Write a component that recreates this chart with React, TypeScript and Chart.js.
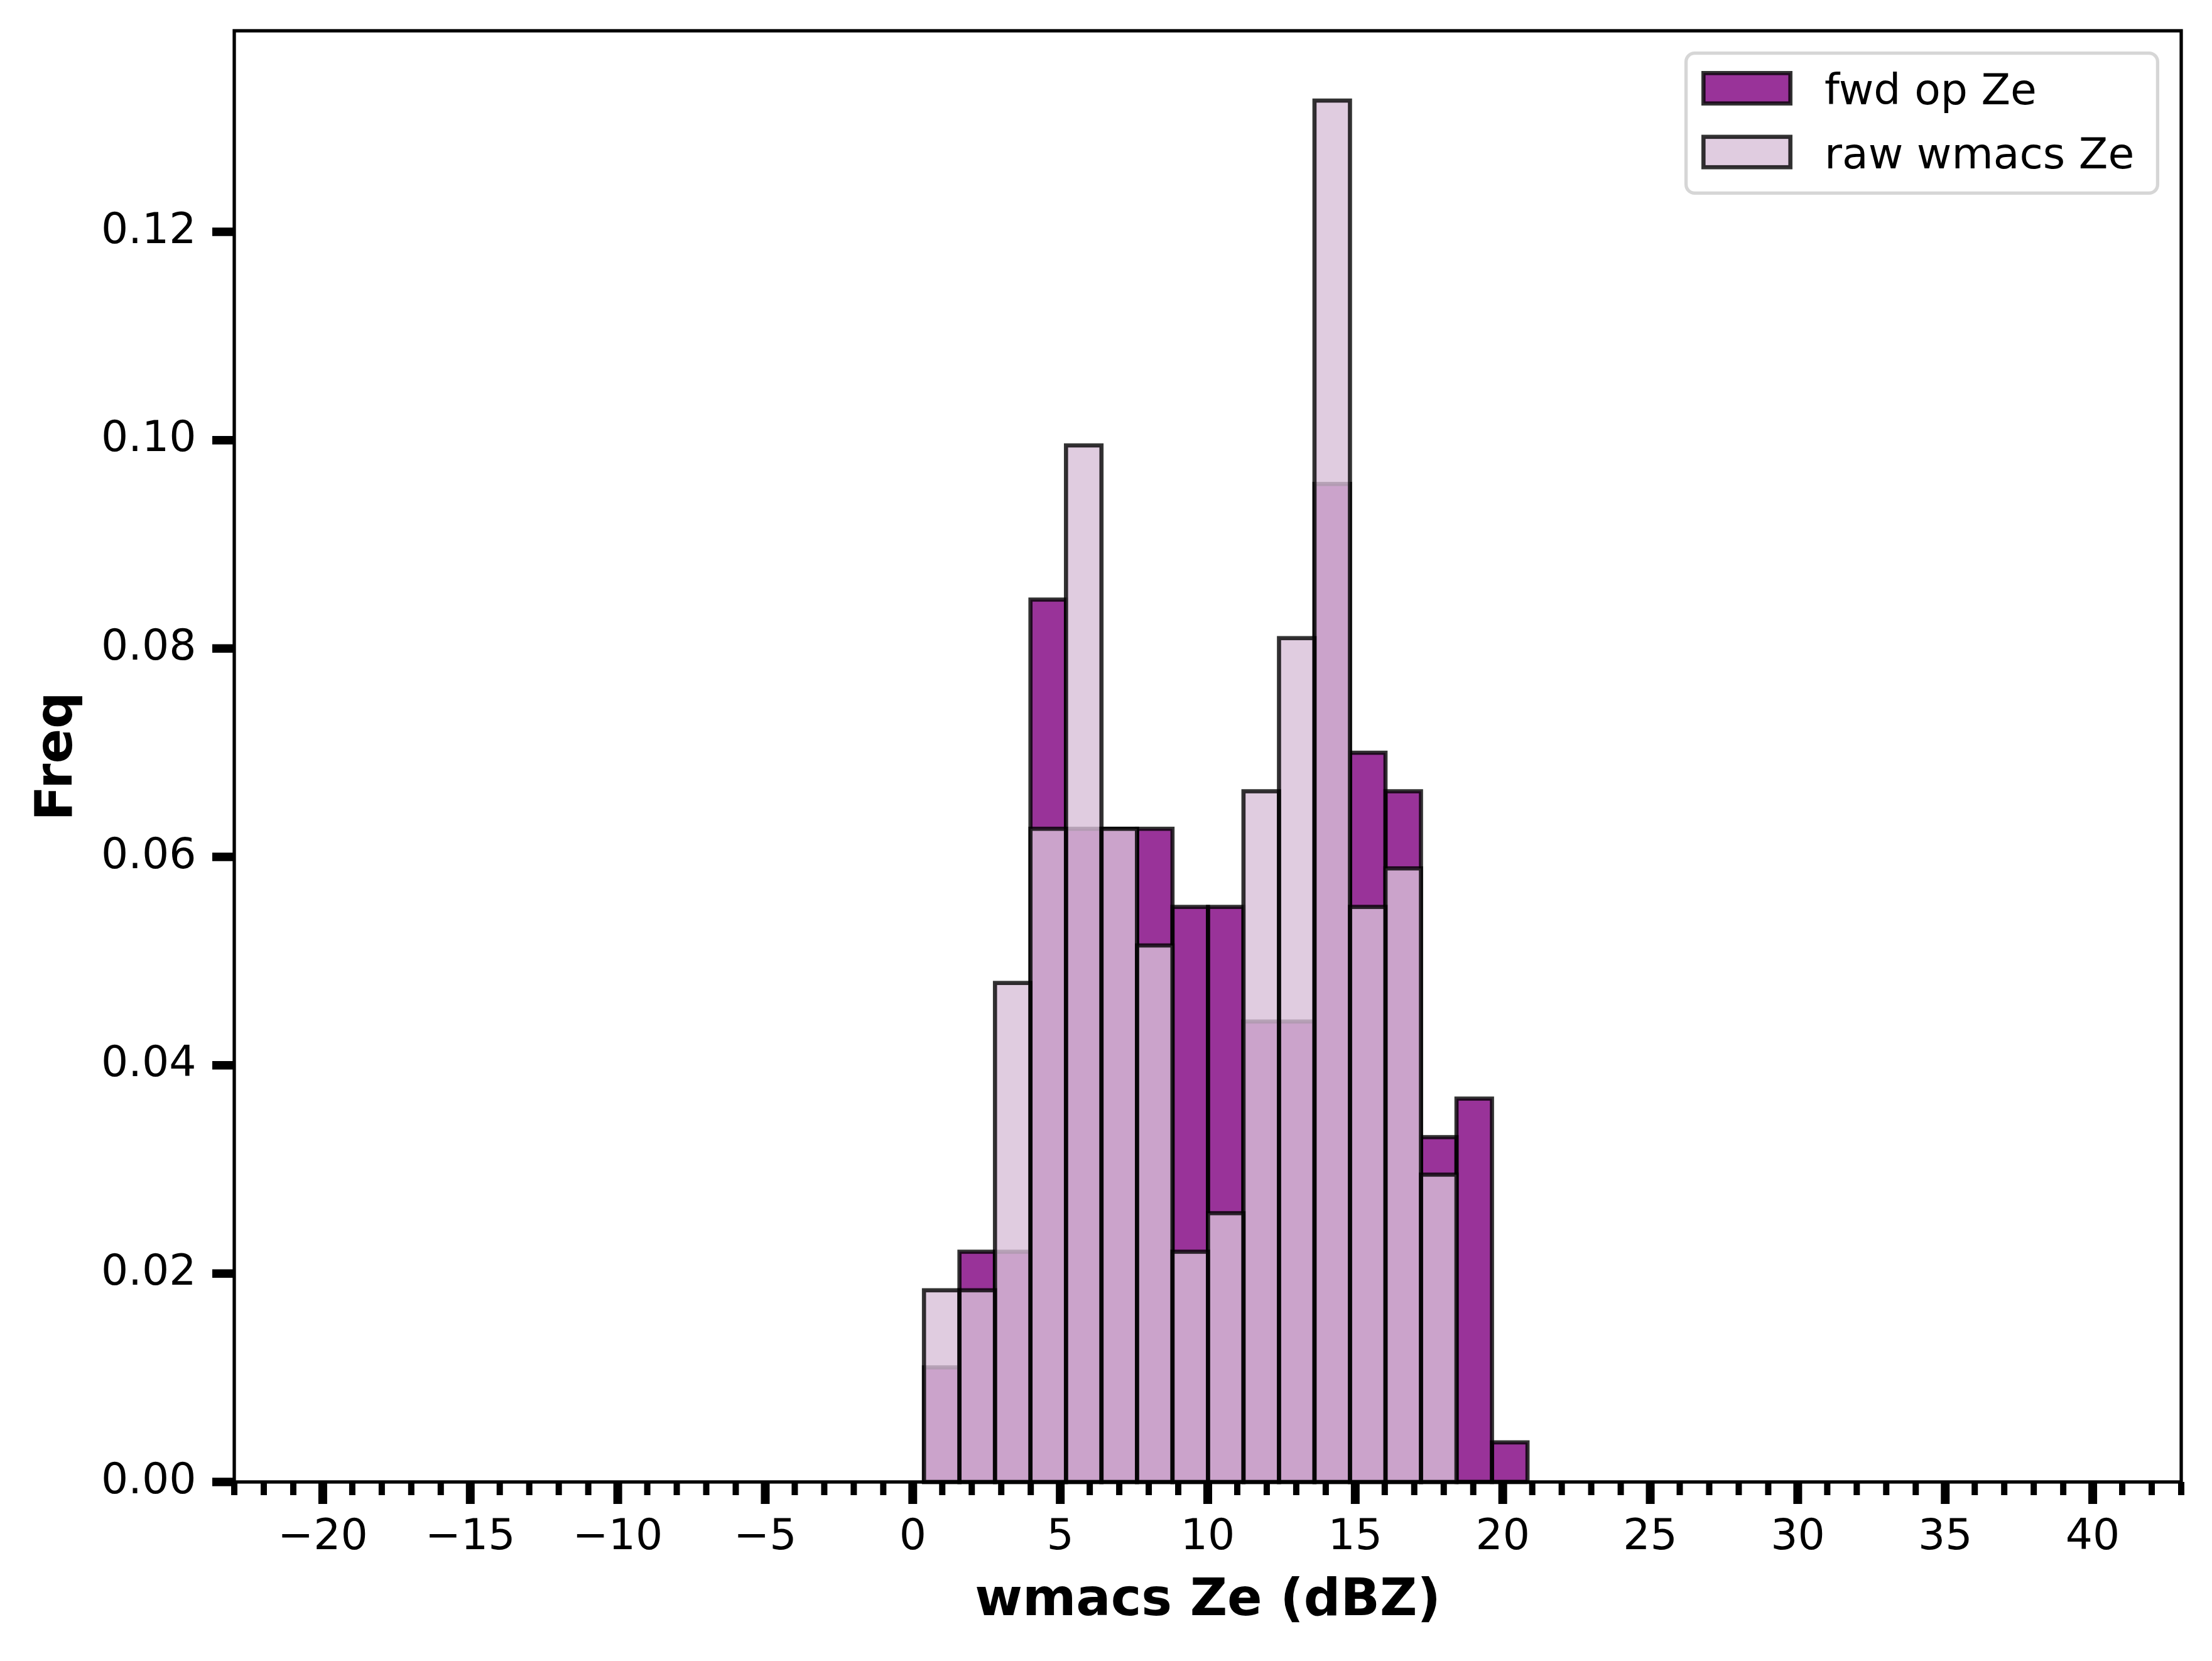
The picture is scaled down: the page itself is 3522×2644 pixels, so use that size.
import React, { useEffect, useRef } from 'react';
import { Chart, registerables } from 'chart.js';

Chart.register(...registerables);

// ---- data ----
const binCenters = [0.982, 2.185, 3.389, 4.592, 5.796, 6.999, 8.203, 9.406, 10.61, 11.813, 13.017, 14.22, 15.424, 16.627, 17.831, 19.034, 20.238];
const fwdOpZe = [0.011, 0.0221, 0.0221, 0.0847, 0.0627, 0.0627, 0.0627, 0.0552, 0.0552, 0.0442, 0.0442, 0.0958, 0.07, 0.0663, 0.0331, 0.0368, 0.0038];
const rawWmacsZe = [0.0184, 0.0184, 0.0479, 0.0627, 0.0995, 0.0627, 0.0515, 0.0221, 0.0258, 0.0663, 0.081, 0.1326, 0.0552, 0.0589, 0.0295, 0, 0];
const seriesLabels = ['fwd op Ze', 'raw wmacs Ze'];
const xAxisTitle = 'wmacs Ze (dBZ)';
const yAxisTitle = 'Freq';
const xLimits = [-23, 43];
const yLimits = [0, 0.1393];
const xMajorStep = 5;
const xMinorStep = 1;
const yStep = 0.02;

// ---- styles ----
const W = 3522;
const H = 2644;
const FONT = "'DejaVu Sans', 'Liberation Sans', sans-serif";
const FWD_FILL = 'rgba(128,0,128,0.8)';
const RAW_FILL = 'rgba(216,191,216,0.8)';
const EDGE = 'rgba(0,0,0,0.8)';
const EDGE_W = 6.6;
const SPINE_W = 5.3;

const mplPlugin = {
  id: 'mplLook',
  afterDatasetDraw(chart: any, args: any) {
    const { ctx } = chart;
    const meta = args.meta;
    ctx.save();
    ctx.strokeStyle = EDGE;
    ctx.lineWidth = EDGE_W;
    ctx.lineJoin = 'miter';
    meta.data.forEach((el: any) => {
      const p = el.getProps(['x', 'y', 'base', 'width'], true);
      const l = p.x - p.width / 2;
      const r = p.x + p.width / 2;
      const t = Math.min(p.y, p.base);
      const b = Math.max(p.y, p.base);
      ctx.strokeRect(l, t, r - l, b - t);
    });
    ctx.restore();
  },
  afterDraw(chart: any) {
    const { ctx, chartArea: ca, scales } = chart;
    const xs = scales.x;
    const ys = scales.y;
    ctx.save();
    // spines
    ctx.strokeStyle = '#000';
    ctx.lineWidth = SPINE_W;
    ctx.lineJoin = 'miter';
    ctx.strokeRect(ca.left, ca.top, ca.right - ca.left, ca.bottom - ca.top);
    // x ticks (major + minor)
    ctx.lineCap = 'butt';
    for (let v = Math.ceil(xs.min); v <= xs.max + 1e-9; v += xMinorStep) {
      const px = xs.getPixelForValue(v);
      const major = Math.abs(v % xMajorStep) < 1e-9;
      ctx.lineWidth = major ? 14 : 10;
      ctx.beginPath();
      ctx.moveTo(px, ca.bottom);
      ctx.lineTo(px, ca.bottom + (major ? 35 : 21));
      ctx.stroke();
    }
    // y ticks
    ys.ticks.forEach((t: any) => {
      const py = ys.getPixelForValue(t.value);
      ctx.lineWidth = 13.5;
      ctx.beginPath();
      ctx.moveTo(ca.left - 35, py);
      ctx.lineTo(ca.left, py);
      ctx.stroke();
    });

    // legend (upper right, inside axes)
    const fLeft = ca.right - 788.4;
    const fTop = ca.top + 35.6;
    const fW = 750.8;
    const fH = 222.8;
    const rad = 13.6;
    ctx.beginPath();
    ctx.moveTo(fLeft + rad, fTop);
    ctx.lineTo(fLeft + fW - rad, fTop);
    ctx.arcTo(fLeft + fW, fTop, fLeft + fW, fTop + rad, rad);
    ctx.lineTo(fLeft + fW, fTop + fH - rad);
    ctx.arcTo(fLeft + fW, fTop + fH, fLeft + fW - rad, fTop + fH, rad);
    ctx.lineTo(fLeft + rad, fTop + fH);
    ctx.arcTo(fLeft, fTop + fH, fLeft, fTop + fH - rad, rad);
    ctx.lineTo(fLeft, fTop + rad);
    ctx.arcTo(fLeft, fTop, fLeft + rad, fTop, rad);
    ctx.closePath();
    ctx.fillStyle = 'rgba(255,255,255,0.8)';
    ctx.fill();
    ctx.strokeStyle = 'rgba(204,204,204,0.8)';
    ctx.lineWidth = SPINE_W;
    ctx.stroke();

    const datasets = chart.data.datasets;
    const rowCenters = [fTop + 55.9, fTop + 157.4];
    datasets.forEach((ds: any, i: number) => {
      const cy = rowCenters[i];
      const sx = fLeft + 27.7;
      const sw = 138.4;
      const sh = 48.4;
      ctx.fillStyle = ds.backgroundColor;
      ctx.fillRect(sx, cy - sh / 2, sw, sh);
      ctx.strokeStyle = EDGE;
      ctx.lineWidth = EDGE_W;
      ctx.strokeRect(sx, cy - sh / 2, sw, sh);
      ctx.fillStyle = '#000';
      ctx.font = `68px ${FONT}`;
      ctx.textAlign = 'left';
      ctx.textBaseline = 'alphabetic';
      ctx.fillText(ds.label, fLeft + 220.4, cy + 25.5);
    });
    ctx.restore();
  },
};

export default function App() {
  const canvasRef = useRef<HTMLCanvasElement | null>(null);

  useEffect(() => {
    document.body.style.margin = '0';
    const canvas = canvasRef.current;
    if (!canvas) return;

    const chart = new Chart(canvas, {
      type: 'bar',
      data: {
        datasets: [
          {
            label: seriesLabels[0],
            data: binCenters.map((c, i) => ({ x: c, y: fwdOpZe[i] })),
            backgroundColor: FWD_FILL,
            borderWidth: 0,
            order: 1,
          },
          {
            label: seriesLabels[1],
            data: binCenters.map((c, i) => ({ x: c, y: rawWmacsZe[i] })),
            backgroundColor: RAW_FILL,
            borderWidth: 0,
            order: 0,
          },
        ] as any,
      },
      options: {
        animation: false,
        responsive: false,
        maintainAspectRatio: false,
        devicePixelRatio: 1,
        datasets: {
          bar: {
            grouped: false,
            barPercentage: 1,
            categoryPercentage: 1,
            inflateAmount: 0,
          } as any,
        },
        layout: { padding: { left: 0, top: 49, right: 49, bottom: 0 } },
        plugins: {
          legend: { display: false },
          tooltip: { enabled: false },
        },
        scales: {
          x: {
            type: 'linear',
            min: xLimits[0],
            max: xLimits[1],
            offset: false,
            grid: { display: false, drawTicks: false, offset: false },
            border: { display: false },
            ticks: {
              stepSize: xMajorStep,
              includeBounds: false,
              autoSkip: false,
              maxRotation: 0,
              minRotation: 0,
              padding: 49,
              color: '#000',
              font: { family: FONT, size: 68 },
              callback: (v: any) => String(v).replace('-', '\u2212'),
            },
            title: {
              display: true,
              text: xAxisTitle,
              color: '#000',
              font: { family: FONT, size: 82, weight: 'bold' },
              padding: { top: 0, bottom: 45 },
            },
            afterFit: (s: any) => {
              s.height = 285;
              s.paddingLeft = 0;
              s.paddingRight = 0;
              s.paddingTop = 0;
              s.paddingBottom = 0;
            },
          } as any,
          y: {
            type: 'linear',
            min: yLimits[0],
            max: yLimits[1],
            grid: { display: false, drawTicks: false },
            border: { display: false },
            ticks: {
              stepSize: yStep,
              includeBounds: false,
              padding: 60.5,
              color: '#000',
              font: { family: FONT, size: 68 },
              callback: (v: any) => Number(v).toFixed(2),
            },
            title: {
              display: true,
              text: yAxisTitle,
              color: '#000',
              font: { family: FONT, size: 82, weight: 'bold' },
              padding: { top: 44, bottom: 0 },
            },
            afterFit: (s: any) => {
              s.width = 373;
              s.paddingLeft = 0;
              s.paddingRight = 0;
              s.paddingTop = 0;
              s.paddingBottom = 0;
            },
          } as any,
        },
      },
      plugins: [mplPlugin],
    });

    return () => {
      chart.destroy();
    };
  }, []);

  return (
    <div style={{ width: W, height: H, position: 'relative', background: '#fff' }}>
      <canvas
        ref={canvasRef}
        width={W}
        height={H}
        style={{ display: 'block', position: 'fixed', left: 0, top: 0, width: W, height: H }}
      />
    </div>
  );
}
